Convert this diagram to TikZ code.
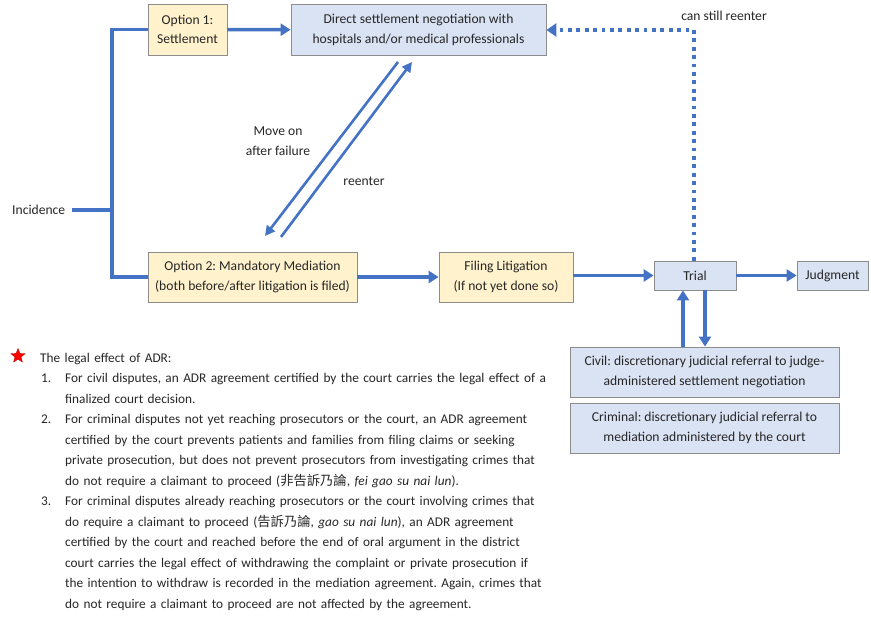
\documentclass[tikz,border=0pt]{standalone}
\usepackage{fontspec}
\setmainfont{Carlito}
\newfontfamily\cjk{Noto Sans CJK TC}
\usetikzlibrary{arrows.meta,positioning,shapes.geometric,calc}
\definecolor{flowblue}{HTML}{4472C4}
\definecolor{optfill}{HTML}{FFF2CC}
\definecolor{courtfill}{HTML}{DAE3F3}
\definecolor{boxline}{HTML}{8C8C8C}
\definecolor{inktext}{HTML}{262626}
\frenchspacing

\newcommand{\boxfont}{\fontsize{13.6}{19.5}\selectfont}
\newcommand{\notefont}{\fontsize{13.3}{20.5}\selectfont}

\begin{document}
\begin{tikzpicture}[x=1pt,y=-1pt,
    optbox/.style={rectangle, draw=boxline, line width=0.8pt, fill=optfill, align=center, font=\boxfont, text=inktext, inner sep=1pt},
    courtbox/.style={rectangle, draw=boxline, line width=0.8pt, fill=courtfill, align=center, font=\boxfont, text=inktext, inner sep=1pt},
    lbl/.style={font=\boxfont, text=inktext, align=center, inner sep=0pt},
    trunk/.style={draw=flowblue, line width=3.5pt},
    flow/.style={draw=flowblue, line width=3.5pt, -{Triangle[length=10pt,width=12pt]}},
    slim/.style={draw=flowblue, line width=2.6pt, -{Triangle[length=10pt,width=10pt]}},
    dotflow/.style={draw=flowblue, line width=3.8pt, dash pattern=on 3.8pt off 4.6pt, -{Triangle[length=10pt,width=13pt]}}
]
    \useasboundingbox (0,0) rectangle (871,617);

    % options
    \node[optbox, minimum width=79pt, minimum height=51pt] (option1) at (187.5,29.5) {Option 1:\\Settlement};
    \node[courtbox, minimum width=255pt, minimum height=51pt] (direct) at (418.5,30) {Direct settlement negotiation with\\hospitals and/or medical professionals};
    \node[optbox, minimum width=209pt, minimum height=50pt] (option2) at (252.5,277) {Option 2: Mandatory Mediation\\(both before/after litigation is filed)};
    \node[optbox, minimum width=134pt, minimum height=50pt] (filing) at (506,277) {Filing Litigation\\(If not yet done so)};

    % court
    \node[courtbox, minimum width=82pt, minimum height=29pt] (trial) at (695,275.5) {Trial};
    \node[courtbox, minimum width=71pt, minimum height=29pt] (judgment) at (832.5,275.5) {Judgment};
    \node[courtbox, minimum width=269pt, minimum height=50pt] (civil) at (704.5,372) {Civil: discretionary judicial referral to judge-\\administered settlement negotiation};
    \node[courtbox, minimum width=269pt, minimum height=50pt] (criminal) at (704.5,428) {Criminal: discretionary judicial referral to\\mediation administered by the court};

    \node[lbl, anchor=west] (incidence) at (12,210) {Incidence};
    \coordinate (split) at (112,210);

    % connectors
    \draw[trunk] (incidence.east) ++(7,0) -- (split);
    \draw[trunk, line join=miter] (split) |- (option1.west);
    \draw[trunk, line join=miter] (split) |- (option2.west);
    \draw[flow] (option1) -- (direct);
    \draw[flow] (option2) -- (filing);
    \draw[flow] (filing.east |- trial) -- (trial);
    \draw[flow] (trial) -- (judgment);
    \draw[flow] ([xshift=-12pt]civil.north -| trial) -- ([xshift=-12pt]trial.south);
    \draw[flow] ([xshift=10pt]trial.south) -- ([xshift=10pt]civil.north -| trial);
    \draw[dotflow] ([xshift=-1pt]trial.north) |- (direct.east);
    \node[lbl] (stillre) at (724,16) {can still reenter};

    % move on / reenter
    \coordinate (failtop) at (398,62);
    \coordinate (failend) at (265,236);
    \coordinate (backstart) at (281,237);
    \coordinate (backend) at (412,62);
    \draw[slim] (failtop) -- (failend);
    \draw[slim] (backstart) -- (backend);
    \node[lbl] (moveon) at (278,141) {Move on\\after failure};
    \node[lbl] (reenter) at (364,181) {reenter};

    % notes
    \node[star, star points=5, star point ratio=2.3, fill=red, draw=red!70!black, line width=0.3pt, minimum size=15pt, inner sep=0pt] (mark) at (18,356) {};
    \node[anchor=north west, text width=540pt, inner sep=0pt, font=\notefont, text=inktext, align=left] (notes) at (40,353) {%
        The legal effect of ADR:
        \begin{list}{\arabic{enumi}.}{\usecounter{enumi}\setlength{\leftmargin}{25pt}\setlength{\labelsep}{14pt}\setlength{\labelwidth}{11pt}\setlength{\itemindent}{0pt}\setlength{\topsep}{0pt}\setlength{\partopsep}{0pt}\setlength{\itemsep}{0pt}\setlength{\parsep}{0pt}}
        \item For civil disputes, an ADR agreement certified by the court carries the legal effect of a\newline finalized court decision.
        \item For criminal disputes not yet reaching prosecutors or the court, an ADR agreement\newline certified by the court prevents patients and families from filing claims or seeking\newline private prosecution, but does not prevent prosecutors from investigating crimes that\newline do not require a claimant to proceed ({\cjk 非告訴乃論}, \textit{fei gao su nai lun}).
        \item For criminal disputes already reaching prosecutors or the court involving crimes that\newline do require a claimant to proceed ({\cjk 告訴乃論}, \textit{gao su nai lun}), an ADR agreement\newline certified by the court and reached before the end of oral argument in the district\newline court carries the legal effect of withdrawing the complaint or private prosecution if\newline the intention to withdraw is recorded in the mediation agreement. Again, crimes that\newline do not require a claimant to proceed are not affected by the agreement.
        \end{list}};
\end{tikzpicture}
\end{document}
